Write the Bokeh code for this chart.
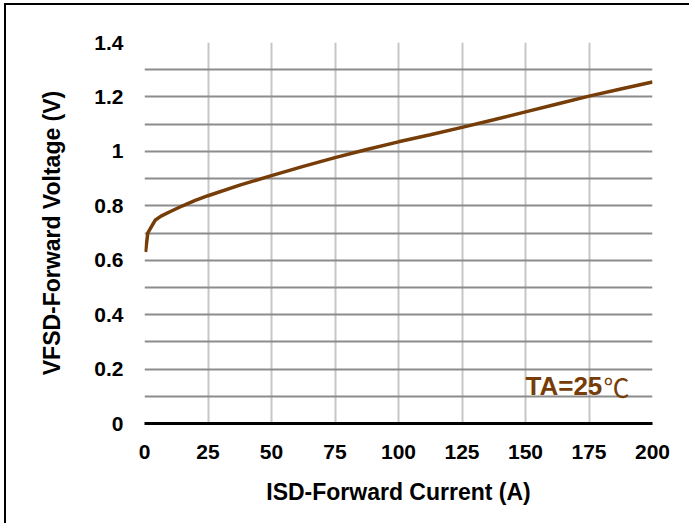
from bokeh.plotting import figure
from bokeh.models import FixedTicker, Label, Range1d
from bokeh.embed import file_html
from bokeh.resources import INLINE

# ---- data ----
current_a = [0.4, 1.3, 2.5, 4.3, 6.5, 10, 15, 20, 25, 37.5, 50, 62.5, 75,
             87.5, 100, 112.5, 125, 137.5, 150, 162.5, 175, 187.5, 200]
voltage_v = [0.63, 0.70, 0.72, 0.748, 0.762, 0.778, 0.80, 0.82, 0.837,
             0.876, 0.911, 0.945, 0.977, 1.007, 1.035, 1.061, 1.088, 1.116,
             1.145, 1.174, 1.203, 1.229, 1.255]
x_ticks = [0, 25, 50, 75, 100, 125, 150, 175, 200]
y_ticks = [0, 0.2, 0.4, 0.6, 0.8, 1, 1.2, 1.4]
y_tick_labels = ["0", "0.2", "0.4", "0.6", "0.8", "1", "1.2", "1.4"]
y_grid = [0, 0.1, 0.2, 0.3, 0.4, 0.5, 0.6, 0.7, 0.8, 0.9, 1.0, 1.1, 1.2, 1.3, 1.4]
x_title = "ISD-Forward Current (A)"
y_title = "VFSD-Forward Voltage (V)"
note = "TA=25"
note_unit = "\u2103"
note_at = (150, 0.137)

# canvas origin on the page (after the 2px outline at top/left)
CX, CY = 6, 5
FL, FT, FR, FB = 144, 42, 652, 423          # frame edges on the page
W, H = 685, 520
ML, MT = FL - CX, FT - CY
MR, MB = W - (FR - CX), H - (FB - CY)
FONT = "Liberation Sans"
BROWN = "#763d08"

p = figure(width=W, height=H, output_backend="svg", toolbar_location=None,
           x_range=Range1d(0, 200), y_range=Range1d(0, 1.4),
           min_border_left=ML, min_border_top=MT, min_border_right=MR,
           min_border_bottom=MB)
p.styles = {"box-shadow": "-2px -2px 0px 0px black",
            "margin-top": "5px", "margin-left": "6px"}
p.outline_line_color = None
p.background_fill_color = "white"
p.border_fill_color = "white"

# grids
p.xgrid.ticker = FixedTicker(ticks=x_ticks)
p.xgrid.grid_line_color = "#c6c6c6"
p.xgrid.grid_line_width = 2
p.ygrid.ticker = FixedTicker(ticks=y_grid)
p.ygrid.grid_line_color = "#8c8c8c"
p.ygrid.grid_line_width = 2

# axes
p.xaxis.ticker = FixedTicker(ticks=x_ticks)
p.yaxis.ticker = FixedTicker(ticks=y_ticks)
p.yaxis.major_label_overrides = dict(zip(y_ticks, y_tick_labels))
for ax in (p.xaxis, p.yaxis):
    ax.major_tick_line_color = None
    ax.minor_tick_line_color = None
    ax.major_tick_out = 0
    ax.major_tick_in = 0
    ax.minor_tick_out = 0
    ax.minor_tick_in = 0
    ax.major_label_text_font = FONT
    ax.major_label_text_font_style = "bold"
    ax.major_label_text_font_size = "21px"
    ax.major_label_text_color = "black"
    ax.axis_label_text_font = FONT
    ax.axis_label_text_font_style = "bold"
    ax.axis_label_text_font_size = "23px"
    ax.axis_label_text_color = "black"
p.xaxis.axis_line_color = "black"
p.xaxis.axis_line_width = 3
p.xaxis.major_label_standoff = 21
p.xaxis.axis_label = x_title
p.xaxis.axis_label_standoff = 17
p.yaxis.axis_line_color = None
p.yaxis.major_label_standoff = 21
p.yaxis.axis_label = y_title
p.yaxis.axis_label_standoff = 26

p.line(current_a, voltage_v, line_color=BROWN, line_width=3.5)

# annotation inside the plot area
TS = 26
p.add_layout(Label(x=note_at[0], y=note_at[1], text=note, text_font=FONT,
                   text_font_style="bold", text_font_size=f"{TS}px",
                   text_color=BROWN, text_baseline="alphabetic"))
p.add_layout(Label(x=note_at[0], y=note_at[1], x_offset=3.0 * TS,
                   text=note_unit, text_font="Noto Sans CJK SC",
                   text_font_size=f"{TS}px", text_color=BROWN,
                   text_baseline="alphabetic"))

open("out.html", "w").write(file_html(p, INLINE))
